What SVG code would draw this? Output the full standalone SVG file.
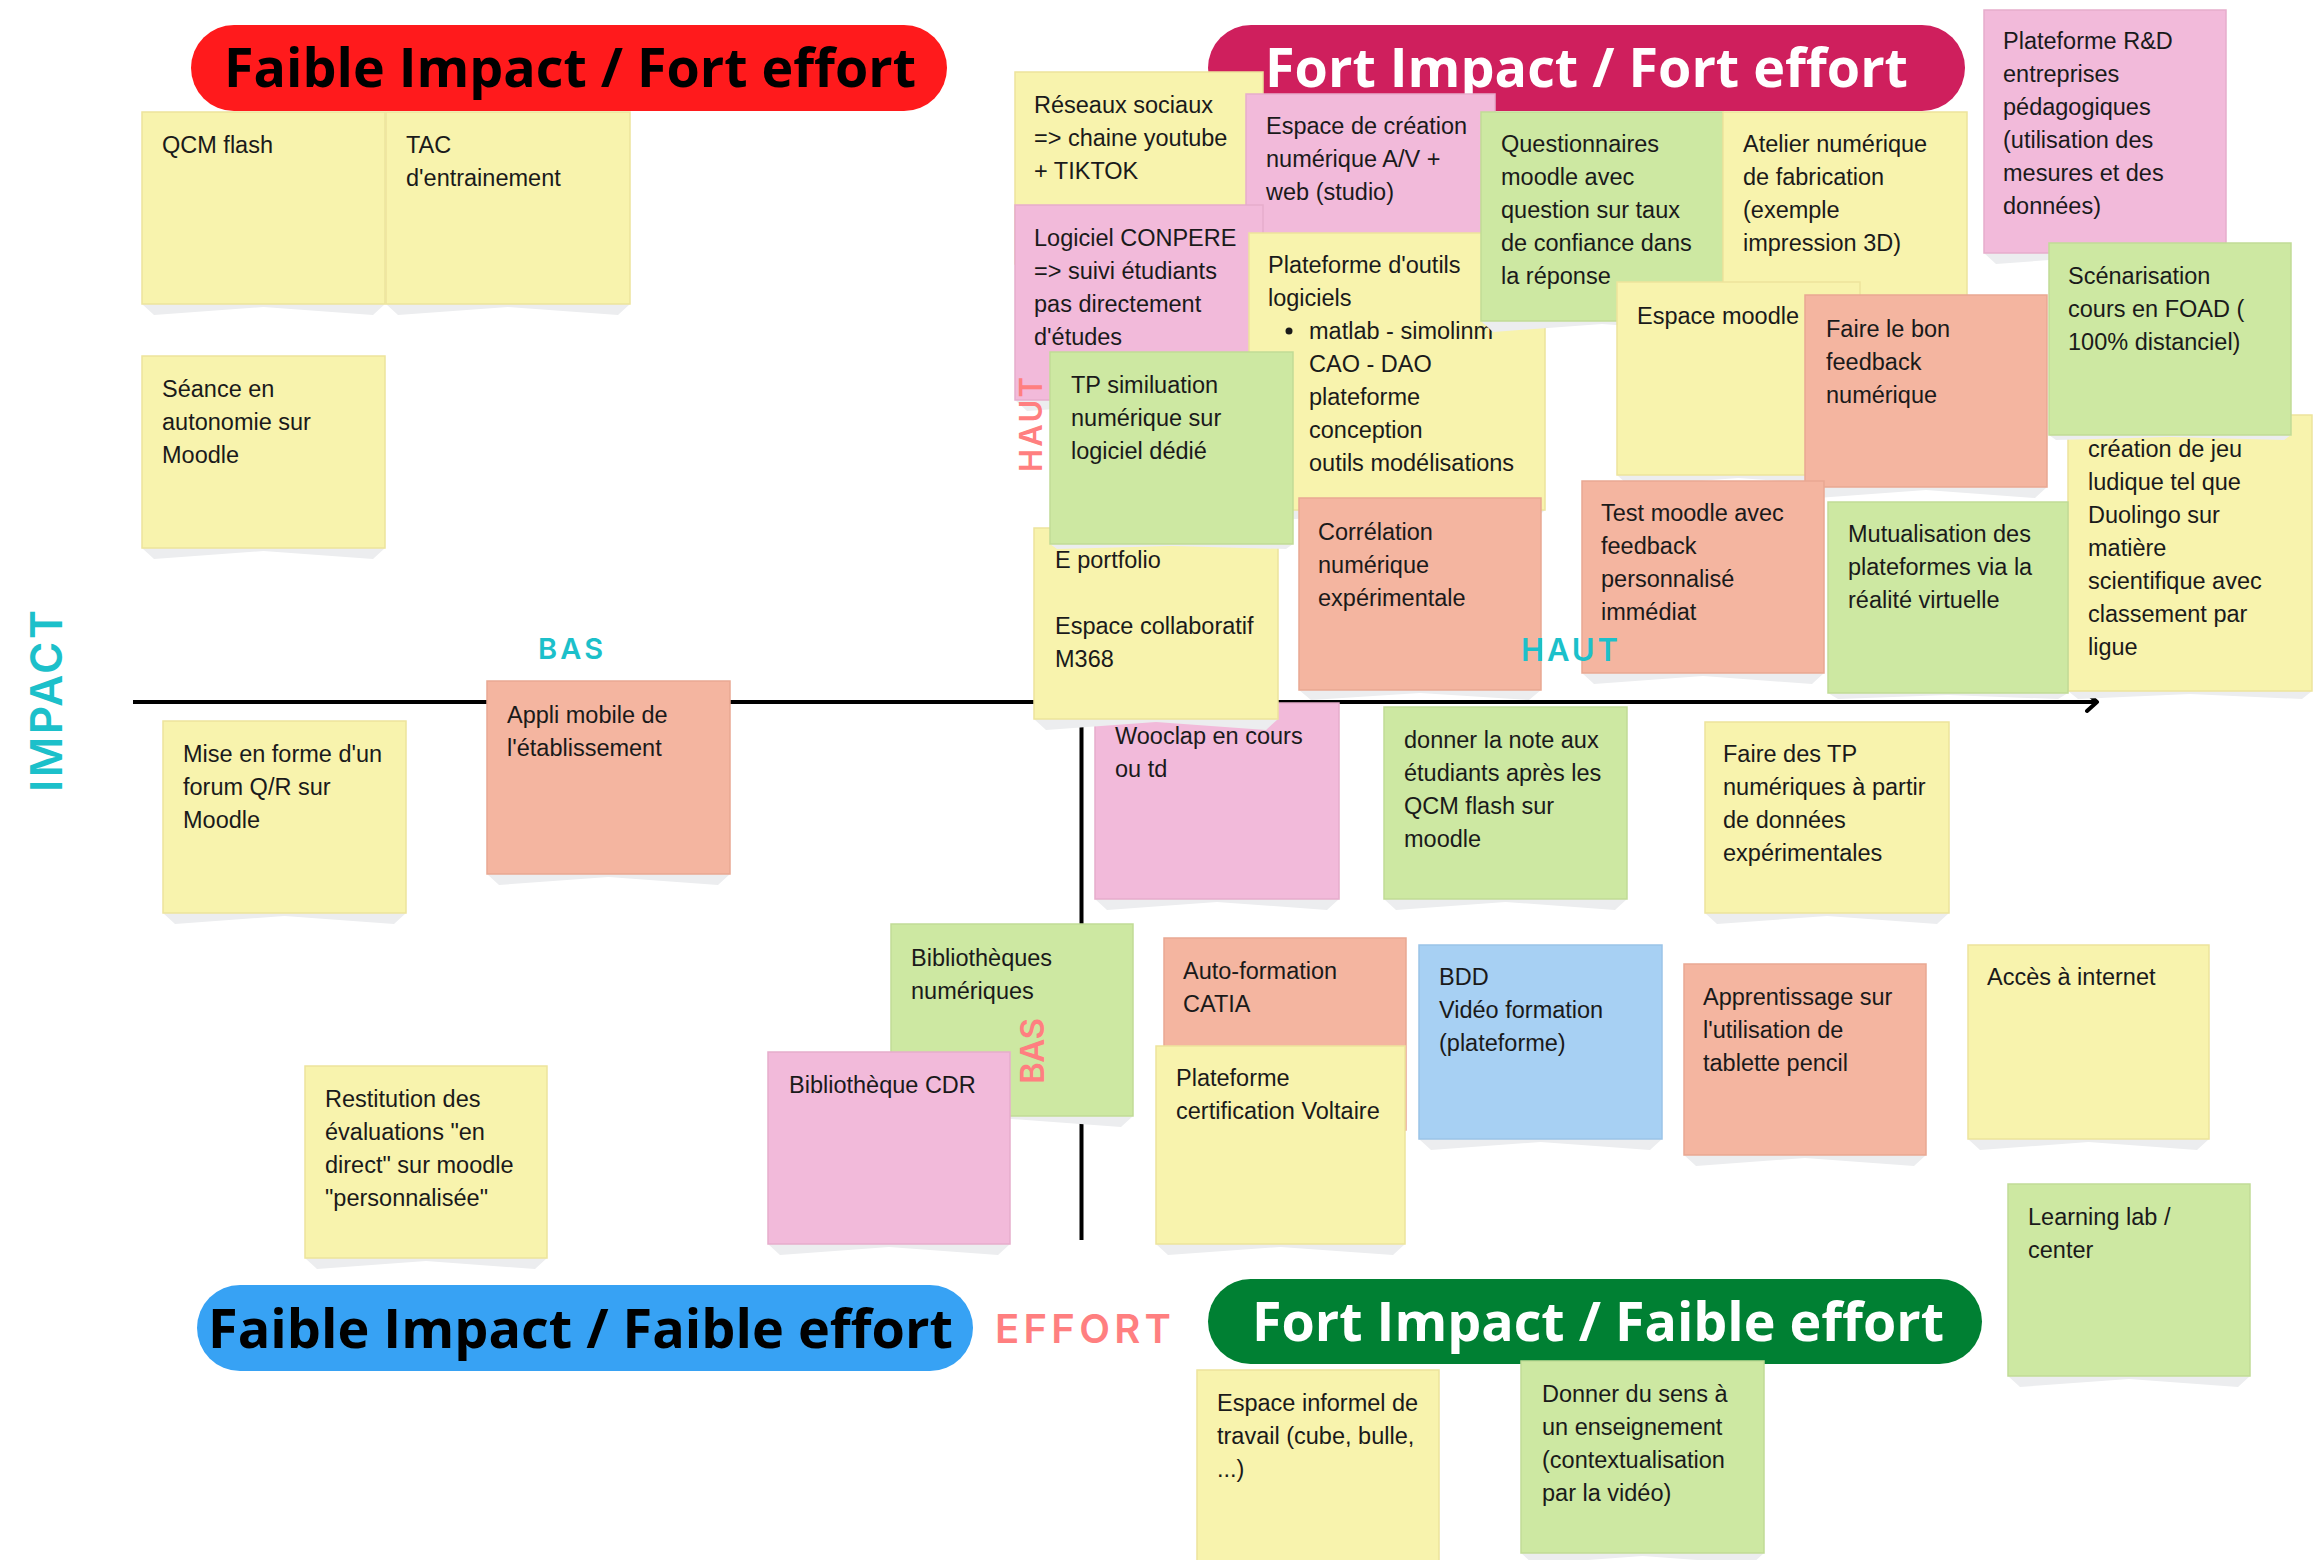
<svg xmlns="http://www.w3.org/2000/svg" width="2319" height="1560" viewBox="0 0 2319 1560">
<style>
.y{fill:#F8F3AD;stroke:#EDE49C;stroke-width:1.5}
.p{fill:#F2BADA;stroke:#E6ADCC;stroke-width:1.5}
.g{fill:#CDE8A2;stroke:#C1DB96;stroke-width:1.5}
.s{fill:#F4B5A0;stroke:#E9A892;stroke-width:1.5}
.b{fill:#A7D0F3;stroke:#9BC4E8;stroke-width:1.5}
.sh{fill:#ECEDEF}
.t{font-family:"Liberation Sans",Arial,sans-serif;font-size:23.5px;fill:#1a1a1a}
.hd{font-family:"Open Sans","DejaVu Sans",sans-serif;font-weight:700;font-size:53px}
.lbl{font-family:Inter,"Open Sans",sans-serif;font-weight:600}
.teal{fill:#1CC0CA}
.sal{fill:#FF7F80}
.ax{stroke:#000;stroke-width:4;fill:none}
</style>
<defs>
<marker id="arr" markerUnits="userSpaceOnUse" markerWidth="16" markerHeight="24" refX="12" refY="11" orient="auto">
<path d="M2,2 L12,11 L2,20" fill="none" stroke="#000" stroke-width="4" stroke-linecap="round" stroke-linejoin="round"/>
</marker>
</defs>
<rect width="2319" height="1560" fill="#fff"/>

<g id="pill-faible-fort">
<rect x="191" y="25" width="756" height="86" rx="43" fill="#FF1A1C"/>
<text class="hd" x="224" y="87" textLength="692" lengthAdjust="spacingAndGlyphs" fill="#000">Faible Impact / Fort effort</text>
</g>
<g id="pill-fort-fort">
<rect x="1208" y="25" width="757" height="86" rx="43" fill="#CF1F5D"/>
<text class="hd" x="1265" y="87" textLength="643" lengthAdjust="spacingAndGlyphs" fill="#fff">Fort Impact / Fort effort</text>
</g>
<g id="pill-faible-faible">
<rect x="197" y="1285" width="776" height="86" rx="43" fill="#37A2F4"/>
<text class="hd" x="208" y="1348" textLength="745" lengthAdjust="spacingAndGlyphs" fill="#000">Faible Impact / Faible effort</text>
</g>
<g id="pill-fort-faible">
<rect x="1208" y="1279" width="774" height="85" rx="42.5" fill="#008033"/>
<text class="hd" x="1252" y="1341" textLength="692" lengthAdjust="spacingAndGlyphs" fill="#fff">Fort Impact / Faible effort</text>
</g>

<g id="connectors">
<line class="ax" x1="133" y1="702" x2="2097" y2="702" marker-end="url(#arr)"/>
<line class="ax" x1="1081.5" y1="120" x2="1081.5" y2="1240"/>
</g>

<g id="n-qcm"><path class="sh" d="M142 304H385L373 315L263.5 307L154 315Z"/><rect class="y" x="142" y="112" width="243" height="192"/><text class="t" x="162" y="153">QCM flash</text></g>
<g id="n-tac"><path class="sh" d="M386 304H630L618 315L508 307L398 315Z"/><rect class="y" x="386" y="112" width="244" height="192"/><text class="t" y="153"><tspan x="406">TAC</tspan><tspan x="406" dy="33">d'entrainement</tspan></text></g>
<g id="n-seance"><path class="sh" d="M142 548H385L373 559L263.5 551L154 559Z"/><rect class="y" x="142" y="356" width="243" height="192"/><text class="t" y="397"><tspan x="162">Séance en</tspan><tspan x="162" dy="33">autonomie sur</tspan><tspan x="162" dy="33">Moodle</tspan></text></g>
<g id="n-mise"><path class="sh" d="M163 913H406L394 924L284.5 916L175 924Z"/><rect class="y" x="163" y="721" width="243" height="192"/><text class="t" y="762"><tspan x="183">Mise en forme d'un</tspan><tspan x="183" dy="33">forum Q/R sur</tspan><tspan x="183" dy="33">Moodle</tspan></text></g>
<g id="n-appli"><path class="sh" d="M487 874H730L718 885L608.5 877L499 885Z"/><rect class="s" x="487" y="681" width="243" height="193"/><text class="t" y="723"><tspan x="507">Appli mobile de</tspan><tspan x="507" dy="33">l'établissement</tspan></text></g>
<g id="n-restitution"><path class="sh" d="M305 1258H547L535 1269L426 1261L317 1269Z"/><rect class="y" x="305" y="1066" width="242" height="192"/><text class="t" y="1107"><tspan x="325">Restitution des</tspan><tspan x="325" dy="33">évaluations "en</tspan><tspan x="325" dy="33">direct" sur moodle</tspan><tspan x="325" dy="33">"personnalisée"</tspan></text></g>

<g id="n-reseaux"><path class="sh" d="M1015 264H1263L1251 275L1139 267L1027 275Z"/><rect class="y" x="1015" y="72" width="248" height="192"/><text class="t" y="113"><tspan x="1034">Réseaux sociaux</tspan><tspan x="1034" dy="33">=&gt; chaine youtube</tspan><tspan x="1034" dy="33">+ TIKTOK</tspan></text></g>
<g id="n-espace-creation"><path class="sh" d="M1246 286H1495L1483 297L1370.5 289L1258 297Z"/><rect class="p" x="1246" y="94" width="249" height="192"/><text class="t" y="134"><tspan x="1266">Espace de création</tspan><tspan x="1266" dy="33">numérique A/V +</tspan><tspan x="1266" dy="33">web (studio)</tspan></text></g>
<g id="n-logiciel"><path class="sh" d="M1015 400H1263L1251 411L1139 403L1027 411Z"/><rect class="p" x="1015" y="205" width="248" height="195"/><text class="t" y="246"><tspan x="1034">Logiciel CONPERE</tspan><tspan x="1034" dy="33">=&gt; suivi étudiants</tspan><tspan x="1034" dy="33">pas directement</tspan><tspan x="1034" dy="33">d'études</tspan></text></g>
<g id="n-plateforme-outils"><path class="sh" d="M1249 510H1545L1533 521L1397 513L1261 521Z"/><rect class="y" x="1249" y="233" width="296" height="277"/><text class="t" y="273"><tspan x="1268">Plateforme d'outils</tspan><tspan x="1268" dy="33">logiciels</tspan><tspan x="1309" dy="33">matlab - simolinm</tspan><tspan x="1309" dy="33">CAO - DAO</tspan><tspan x="1309" dy="33">plateforme</tspan><tspan x="1309" dy="33">conception</tspan><tspan x="1309" dy="33">outils modélisations</tspan></text><circle cx="1289" cy="331" r="3.5" fill="#1a1a1a"/></g>
<g id="n-questionnaires"><path class="sh" d="M1481 321H1723L1711 332L1602 324L1493 332Z"/><rect class="g" x="1481" y="112" width="242" height="209"/><text class="t" y="152"><tspan x="1501">Questionnaires</tspan><tspan x="1501" dy="33">moodle avec</tspan><tspan x="1501" dy="33">question sur taux</tspan><tspan x="1501" dy="33">de confiance dans</tspan><tspan x="1501" dy="33">la réponse</tspan></text></g>
<g id="n-atelier"><path class="sh" d="M1723 304H1967L1955 315L1845 307L1735 315Z"/><rect class="y" x="1723" y="112" width="244" height="192"/><text class="t" y="152"><tspan x="1743">Atelier numérique</tspan><tspan x="1743" dy="33">de fabrication</tspan><tspan x="1743" dy="33">(exemple</tspan><tspan x="1743" dy="33">impression 3D)</tspan></text></g>
<g id="n-rd"><path class="sh" d="M1984 253H2226L2214 264L2105 256L1996 264Z"/><rect class="p" x="1984" y="10" width="242" height="243"/><text class="t" y="49"><tspan x="2003">Plateforme R&amp;D</tspan><tspan x="2003" dy="33">entreprises</tspan><tspan x="2003" dy="33">pédagogiques</tspan><tspan x="2003" dy="33">(utilisation des</tspan><tspan x="2003" dy="33">mesures et des</tspan><tspan x="2003" dy="33">données)</tspan></text></g>
<g id="n-espace-moodle"><path class="sh" d="M1617 475H1860L1848 486L1738.5 478L1629 486Z"/><rect class="y" x="1617" y="282" width="243" height="193"/><text class="t" x="1637" y="324">Espace moodle</text></g>
<g id="n-faire-bon"><path class="sh" d="M1805 487H2047L2035 498L1926 490L1817 498Z"/><rect class="s" x="1805" y="295" width="242" height="192"/><text class="t" y="337"><tspan x="1826">Faire le bon</tspan><tspan x="1826" dy="33">feedback</tspan><tspan x="1826" dy="33">numérique</tspan></text></g>
<g id="n-jeu"><path class="sh" d="M2068 691H2312L2302 699L2190 694L2078 699Z"/><rect class="y" x="2068" y="415" width="244" height="276"/><text class="t" y="457"><tspan x="2088">création de jeu</tspan><tspan x="2088" dy="33">ludique tel que</tspan><tspan x="2088" dy="33">Duolingo sur</tspan><tspan x="2088" dy="33">matière</tspan><tspan x="2088" dy="33">scientifique avec</tspan><tspan x="2088" dy="33">classement par</tspan><tspan x="2088" dy="33">ligue</tspan></text></g>
<g id="n-scenarisation"><path class="sh" d="M2049 435H2291L2284 440L2170 437L2056 440Z"/><rect class="g" x="2049" y="243" width="242" height="192"/><text class="t" y="284"><tspan x="2068">Scénarisation</tspan><tspan x="2068" dy="33">cours en FOAD (</tspan><tspan x="2068" dy="33">100% distanciel)</tspan></text></g>
<g id="n-test-moodle"><path class="sh" d="M1582 673H1824L1812 684L1703 676L1594 684Z"/><rect class="s" x="1582" y="481" width="242" height="192"/><text class="t" y="521"><tspan x="1601">Test moodle avec</tspan><tspan x="1601" dy="33">feedback</tspan><tspan x="1601" dy="33">personnalisé</tspan><tspan x="1601" dy="33">immédiat</tspan></text></g>
<g id="n-mutualisation"><path class="sh" d="M1828 693H2068L2058 699L1948 695L1838 699Z"/><rect class="g" x="1828" y="502" width="240" height="191"/><text class="t" y="542"><tspan x="1848">Mutualisation des</tspan><tspan x="1848" dy="33">plateformes via la</tspan><tspan x="1848" dy="33">réalité virtuelle</tspan></text></g>
<g id="n-correlation"><path class="sh" d="M1299 690H1541L1529 700L1420 693L1311 700Z"/><rect class="s" x="1299" y="498" width="242" height="192"/><text class="t" y="540"><tspan x="1318">Corrélation</tspan><tspan x="1318" dy="33">numérique</tspan><tspan x="1318" dy="33">expérimentale</tspan></text></g>
<g id="n-wooclap"><path class="sh" d="M1095 899H1339L1327 910L1217 902L1107 910Z"/><rect class="p" x="1095" y="703" width="244" height="196"/><text class="t" y="744"><tspan x="1115">Wooclap en cours</tspan><tspan x="1115" dy="33">ou td</tspan></text></g>
<g id="n-eportfolio"><path class="sh" d="M1034 719H1278L1266 730L1156 722L1046 730Z"/><rect class="y" x="1034" y="528" width="244" height="191"/><text class="t" y="568"><tspan x="1055">E portfolio</tspan><tspan x="1055" dy="66">Espace collaboratif</tspan><tspan x="1055" dy="33">M368</tspan></text></g>
<g id="n-tp-simulation"><path class="sh" d="M1050 544H1293L1286 549L1171.5 546L1057 549Z"/><rect class="g" x="1050" y="352" width="243" height="192"/><text class="t" y="393"><tspan x="1071">TP similuation</tspan><tspan x="1071" dy="33">numérique sur</tspan><tspan x="1071" dy="33">logiciel dédié</tspan></text></g>
<g id="n-donner-note"><path class="sh" d="M1384 899H1627L1615 910L1505.5 902L1396 910Z"/><rect class="g" x="1384" y="707" width="243" height="192"/><text class="t" y="748"><tspan x="1404">donner la note aux</tspan><tspan x="1404" dy="33">étudiants après les</tspan><tspan x="1404" dy="33">QCM flash sur</tspan><tspan x="1404" dy="33">moodle</tspan></text></g>
<g id="n-faire-tp"><path class="sh" d="M1705 913H1949L1937 924L1827 916L1717 924Z"/><rect class="y" x="1705" y="722" width="244" height="191"/><text class="t" y="762"><tspan x="1723">Faire des TP</tspan><tspan x="1723" dy="33">numériques à partir</tspan><tspan x="1723" dy="33">de données</tspan><tspan x="1723" dy="33">expérimentales</tspan></text></g>
<g id="n-biblio-num"><path class="sh" d="M891 1116H1133L1121 1127L1012 1119L903 1127Z"/><rect class="g" x="891" y="924" width="242" height="192"/><text class="t" y="966"><tspan x="911">Bibliothèques</tspan><tspan x="911" dy="33">numériques</tspan></text></g>
<g id="n-biblio-cdr"><path class="sh" d="M768 1244H1010L998 1255L889 1247L780 1255Z"/><rect class="p" x="768" y="1052" width="242" height="192"/><text class="t" x="789" y="1093">Bibliothèque CDR</text></g>
<g id="n-catia"><path class="sh" d="M1164 1130H1406L1394 1141L1285 1133L1176 1141Z"/><rect class="s" x="1164" y="938" width="242" height="192"/><text class="t" y="979"><tspan x="1183">Auto-formation</tspan><tspan x="1183" dy="33">CATIA</tspan></text></g>
<g id="n-voltaire"><path class="sh" d="M1156 1244H1405L1393 1255L1280.5 1247L1168 1255Z"/><rect class="y" x="1156" y="1046" width="249" height="198"/><text class="t" y="1086"><tspan x="1176">Plateforme</tspan><tspan x="1176" dy="33">certification Voltaire</tspan></text></g>
<g id="n-bdd"><path class="sh" d="M1419 1139H1662L1650 1150L1540.5 1142L1431 1150Z"/><rect class="b" x="1419" y="945" width="243" height="194"/><text class="t" y="985"><tspan x="1439">BDD</tspan><tspan x="1439" dy="33">Vidéo formation</tspan><tspan x="1439" dy="33">(plateforme)</tspan></text></g>
<g id="n-apprentissage"><path class="sh" d="M1684 1155H1926L1914 1166L1805 1158L1696 1166Z"/><rect class="s" x="1684" y="964" width="242" height="191"/><text class="t" y="1005"><tspan x="1703">Apprentissage sur</tspan><tspan x="1703" dy="33">l'utilisation de</tspan><tspan x="1703" dy="33">tablette pencil</tspan></text></g>
<g id="n-acces"><path class="sh" d="M1968 1139H2209L2197 1150L2088.5 1142L1980 1150Z"/><rect class="y" x="1968" y="945" width="241" height="194"/><text class="t" x="1987" y="985">Accès à internet</text></g>
<g id="n-learning"><path class="sh" d="M2008 1376H2250L2238 1387L2129 1379L2020 1387Z"/><rect class="g" x="2008" y="1184" width="242" height="192"/><text class="t" y="1225"><tspan x="2028">Learning lab /</tspan><tspan x="2028" dy="33">center</tspan></text></g>
<g id="n-espace-informel"><rect class="y" x="1197" y="1370" width="242" height="192"/><text class="t" y="1411"><tspan x="1217">Espace informel de</tspan><tspan x="1217" dy="33">travail (cube, bulle,</tspan><tspan x="1217" dy="33">...)</tspan></text></g>
<g id="n-donner-sens"><path class="sh" d="M1521 1553H1764L1752 1564L1642.5 1556L1533 1564Z"/><rect class="g" x="1521" y="1361" width="243" height="192"/><text class="t" y="1402"><tspan x="1542">Donner du sens à</tspan><tspan x="1542" dy="33">un enseignement</tspan><tspan x="1542" dy="33">(contextualisation</tspan><tspan x="1542" dy="33">par la vidéo)</tspan></text></g>

<g id="axis-labels">
<text class="lbl teal" transform="translate(62,701) rotate(-90)" x="0" y="0" font-size="44" text-anchor="middle" textLength="182" lengthAdjust="spacing">IMPACT</text>
<text class="lbl teal" x="538" y="659" font-size="29" textLength="65" lengthAdjust="spacing">BAS</text>
<text class="lbl teal" x="1521" y="661" font-size="31" textLength="97" lengthAdjust="spacing">HAUT</text>
<text class="lbl sal" transform="translate(1042,424.5) rotate(-90)" x="0" y="0" font-size="31" text-anchor="middle" textLength="95" lengthAdjust="spacing">HAUT</text>
<text class="lbl sal" transform="translate(1044,1051) rotate(-90)" x="0" y="0" font-size="33" text-anchor="middle" textLength="66" lengthAdjust="spacing">BAS</text>
<text class="lbl sal" x="995" y="1343" font-size="40" textLength="176" lengthAdjust="spacing">EFFORT</text>
</g>
</svg>
